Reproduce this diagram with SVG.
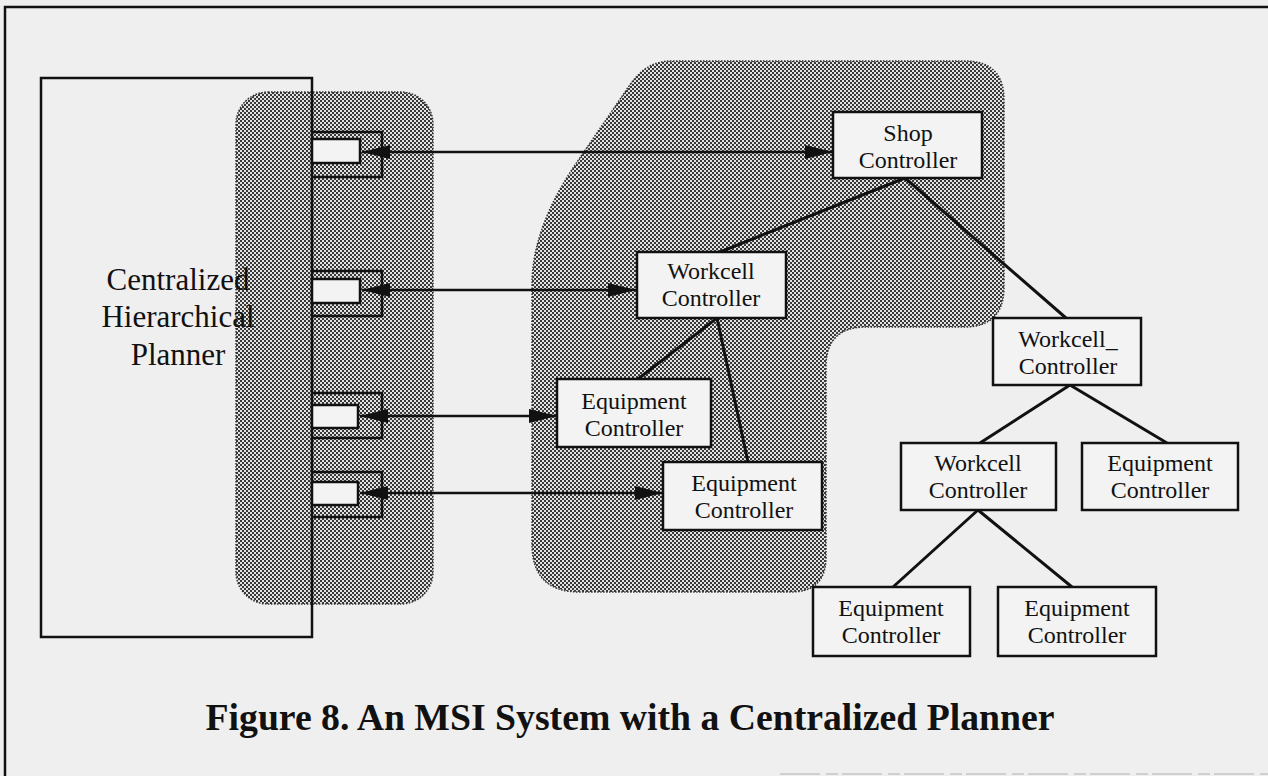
<svg xmlns="http://www.w3.org/2000/svg" width="1268" height="776" viewBox="0 0 1268 776">
<defs>
<pattern id="dots" width="4" height="4" patternUnits="userSpaceOnUse">
<rect width="4" height="4" fill="#e2e2e2"/>
<rect x="0" y="0" width="2" height="2" fill="#383838"/>
<rect x="2" y="2" width="2" height="2" fill="#383838"/>
</pattern>
<marker id="ah" viewBox="0 0 28 14" refX="28" refY="7" markerWidth="28" markerHeight="14" markerUnits="userSpaceOnUse" orient="auto-start-reverse">
<path d="M0,0 L28,7 L0,14 Z" fill="#111"/>
</marker>
<style>
.lbl{font-family:"Liberation Serif","Times New Roman",serif;font-size:24px;fill:#111;text-anchor:middle}
.big{font-family:"Liberation Serif","Times New Roman",serif;font-size:31px;fill:#111;text-anchor:middle}
.cap{font-family:"Liberation Serif","Times New Roman",serif;font-size:38px;font-weight:bold;fill:#111;text-anchor:middle}
.box{fill:#f3f3f3;stroke:#111;stroke-width:2.5}
.shade{fill:url(#dots);stroke:#333;stroke-width:1.5;stroke-dasharray:1.5 1.5}
.ln{stroke:#111;stroke-width:3;fill:none}
.arr{stroke:#111;stroke-width:2.5;fill:none;marker-start:url(#ah);marker-end:url(#ah)}
.port{stroke:#111;stroke-width:2.5;fill:none}
.pin{fill:#f3f3f3;stroke:#111;stroke-width:2.5}
</style>
</defs>
<rect width="1268" height="776" fill="#efefef"/>
<g id="frame" fill="none" stroke="#111" stroke-width="2.5">
<path d="M5,776 L5,7 L1268,7"/>
<path d="M780,774 L1268,774" stroke="#cfcfcf" stroke-width="2" stroke-dasharray="40 6 12 4"/>
</g>
<g id="shaded-regions">
<rect id="interface-region" class="shade" x="236" y="92" width="197" height="512" rx="32" ry="32"/>
<path id="msi-region" class="shade" d="M532,544 L532,285 C532,245 548,205 575,165 L625,92 C638,72 650,61 672,61 L965,61 Q1004,61 1004,100 L1004,287 Q1004,327 964,327 L866,327 Q826,327 826,367 L826,557 Q826,592 791,592 L580,592 Q532,592 532,544 Z"/>
</g>
<g id="planner">
<rect x="41" y="78" width="271" height="559" fill="none" stroke="#111" stroke-width="2.5"/>
<text class="big" x="178" y="290">Centralized</text>
<text class="big" x="178" y="327">Hierarchical</text>
<text class="big" x="178" y="365">Planner</text>
</g>
<g id="ports">
<g id="port1"><path class="port" d="M312,132 L382,132 L382,177 L312,177"/><rect class="pin" x="312" y="139" width="48" height="24"/></g>
<g id="port2"><path class="port" d="M312,271 L382,271 L382,316 L312,316"/><rect class="pin" x="312" y="279" width="48" height="24"/></g>
<g id="port3"><path class="port" d="M312,393 L382,393 L382,438 L312,438"/><rect class="pin" x="312" y="405" width="46" height="23"/></g>
<g id="port4"><path class="port" d="M312,472 L382,472 L382,517 L312,517"/><rect class="pin" x="312" y="482" width="46" height="23"/></g>
</g>
<g id="connectors">
<line class="arr" x1="362" y1="152" x2="833" y2="152"/>
<line class="arr" x1="362" y1="290" x2="636" y2="290"/>
<line class="arr" x1="360" y1="416" x2="557" y2="416"/>
<line class="arr" x1="360" y1="493" x2="663" y2="493"/>
<line class="ln" x1="905" y1="178" x2="720" y2="252"/>
<line class="ln" x1="905" y1="178" x2="1066" y2="318"/>
<line class="ln" x1="717" y1="318" x2="638" y2="379"/>
<line class="ln" x1="717" y1="318" x2="748" y2="462"/>
<line class="ln" x1="1070" y1="385" x2="980" y2="443"/>
<line class="ln" x1="1070" y1="385" x2="1167" y2="443"/>
<line class="ln" x1="978" y1="510" x2="893" y2="587"/>
<line class="ln" x1="978" y1="510" x2="1072" y2="587"/>
</g>
<g id="shop"><rect class="box" x="833" y="112" width="149" height="66"/><text class="lbl" x="908" y="141">Shop</text><text class="lbl" x="908" y="168">Controller</text></g>
<g id="workcell1"><rect class="box" x="637" y="252" width="149" height="66"/><text class="lbl" x="711" y="279">Workcell</text><text class="lbl" x="711" y="306">Controller</text></g>
<g id="equipment1"><rect class="box" x="557" y="379" width="154" height="68"/><text class="lbl" x="634" y="409">Equipment</text><text class="lbl" x="634" y="436">Controller</text></g>
<g id="equipment2"><rect class="box" x="663" y="462" width="159" height="68"/><text class="lbl" x="744" y="491">Equipment</text><text class="lbl" x="744" y="518">Controller</text></g>
<g id="workcell2"><rect class="box" x="993" y="318" width="148" height="67"/><text class="lbl" x="1068" y="347">Workcell_</text><text class="lbl" x="1068" y="374">Controller</text></g>
<g id="workcell3"><rect class="box" x="901" y="443" width="155" height="67"/><text class="lbl" x="978" y="471">Workcell</text><text class="lbl" x="978" y="498">Controller</text></g>
<g id="equipment3"><rect class="box" x="1082" y="443" width="156" height="67"/><text class="lbl" x="1160" y="471">Equipment</text><text class="lbl" x="1160" y="498">Controller</text></g>
<g id="equipment4"><rect class="box" x="813" y="587" width="157" height="69"/><text class="lbl" x="891" y="616">Equipment</text><text class="lbl" x="891" y="643">Controller</text></g>
<g id="equipment5"><rect class="box" x="998" y="587" width="158" height="69"/><text class="lbl" x="1077" y="616">Equipment</text><text class="lbl" x="1077" y="643">Controller</text></g>
<text id="caption" class="cap" x="630" y="730" textLength="849" lengthAdjust="spacingAndGlyphs">Figure 8. An MSI System with a Centralized Planner</text>
</svg>
